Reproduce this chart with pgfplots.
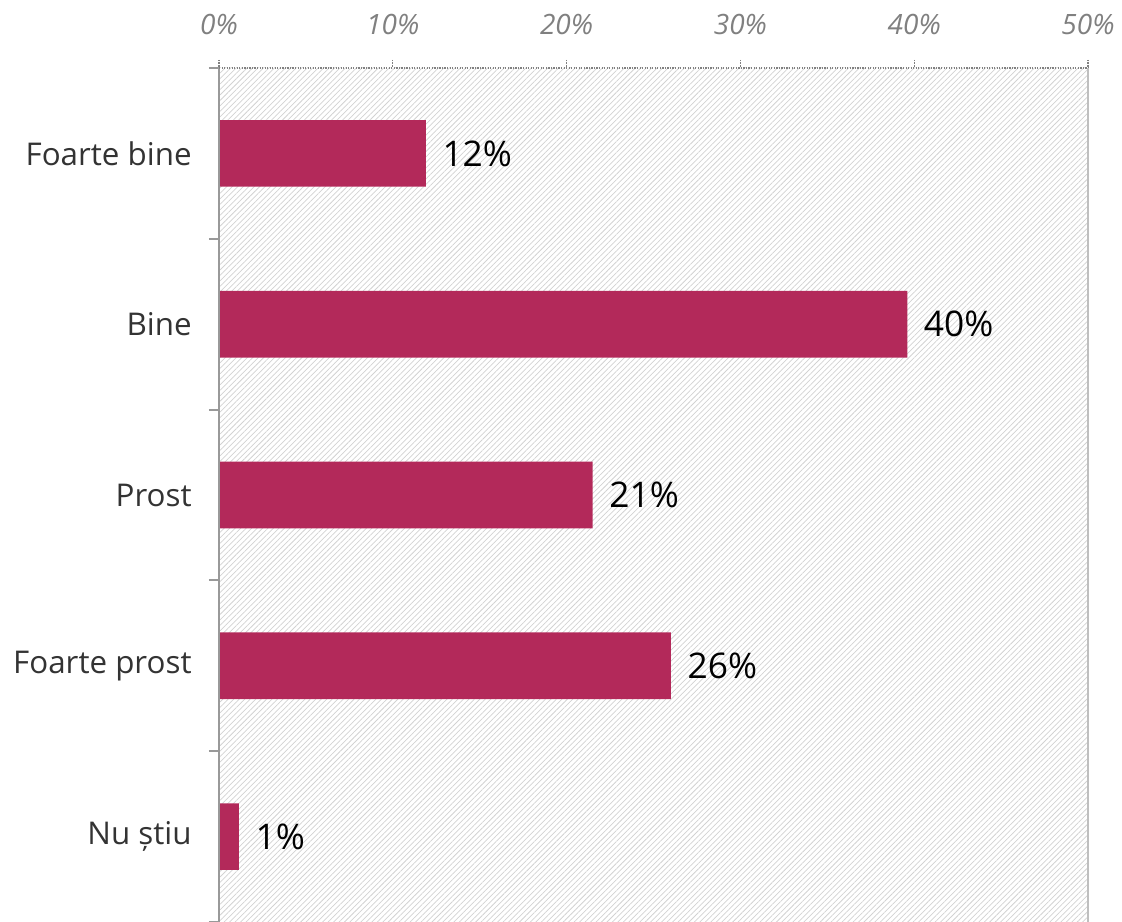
\documentclass[border=0pt]{standalone}
\usepackage{pgfplots}
\pgfplotsset{compat=1.18}
\usepackage{pgfplotstable}
\usepackage{fontspec}
\setmainfont{Open Sans}
\usetikzlibrary{patterns.meta}
\definecolor{barcol}{HTML}{B3295A}
\definecolor{catcol}{HTML}{333333}
\definecolor{tickcol}{HTML}{808080}
\definecolor{axcol}{HTML}{999999}
\pgfplotstableread{
idx val lab
0 11.9 12
1 39.6 40
2 21.5 21
3 26.0 26
4 1.15 1
}\datatable
\begin{document}
\begin{tikzpicture}
\begin{axis}[
  scale only axis,
  width=651.75pt, height=640.5pt,
  xmin=0, xmax=50,
  ymin=-0.5, ymax=4.5,
  y dir=reverse,
  axis line style={draw=none},
  axis background/.style={pattern={Lines[angle=45,distance=2.9pt,line width=0.55pt]}, pattern color=gray!35},
  xtick={0,10,20,30,40,50},
  xticklabels={0\%,10\%,20\%,30\%,40\%,50\%},
  xtick pos=right, xticklabel pos=right,
  xticklabel style={font=\itshape\fontsize{21}{25}\selectfont, text=tickcol, yshift=15pt},
  xtick style={densely dotted, draw=gray, line width=0.9pt},
  ytick={0,1,2,3,4},
  yticklabels={Foarte bine,Bine,Prost,Foarte prost,Nu știu},
  ytick pos=left,
  yticklabel style={font=\fontsize{23.5}{28}\selectfont, text=catcol, xshift=-11pt},
  ytick style={draw=none},
  extra y ticks={-0.5,0.5,1.5,2.5,3.5,4.5},
  extra y tick labels={},
  extra y tick style={ytick style={draw=axcol, solid, line width=1.5pt}, major tick length=7.5pt},
  tick align=outside,
  major tick length=6pt,
  clip=false,
]
\addplot[xbar, fill=barcol, draw=none, bar width=0.39,
  nodes near coords={\pgfplotspointmeta\%},
  point meta=explicit symbolic,
  nodes near coords style={anchor=west, font=\fontsize{26.5}{31}\selectfont, text=black, xshift=9pt}]
  table[x=val, y=idx, meta=lab] {\datatable};
\end{axis}
\draw[axcol, line width=1.5pt] (current axis.north west) -- (current axis.south west);
\draw[gray, densely dotted, line width=0.9pt] (current axis.north west) -- (current axis.north east);
\draw[gray!50, line width=0.9pt] (current axis.north east) -- (current axis.south east);
\pgfresetboundingbox
\path[use as bounding box] ([xshift=-164.25pt,yshift=51pt]current axis.north west) rectangle ([xshift=25.5pt]current axis.south east);
\end{tikzpicture}
\end{document}
